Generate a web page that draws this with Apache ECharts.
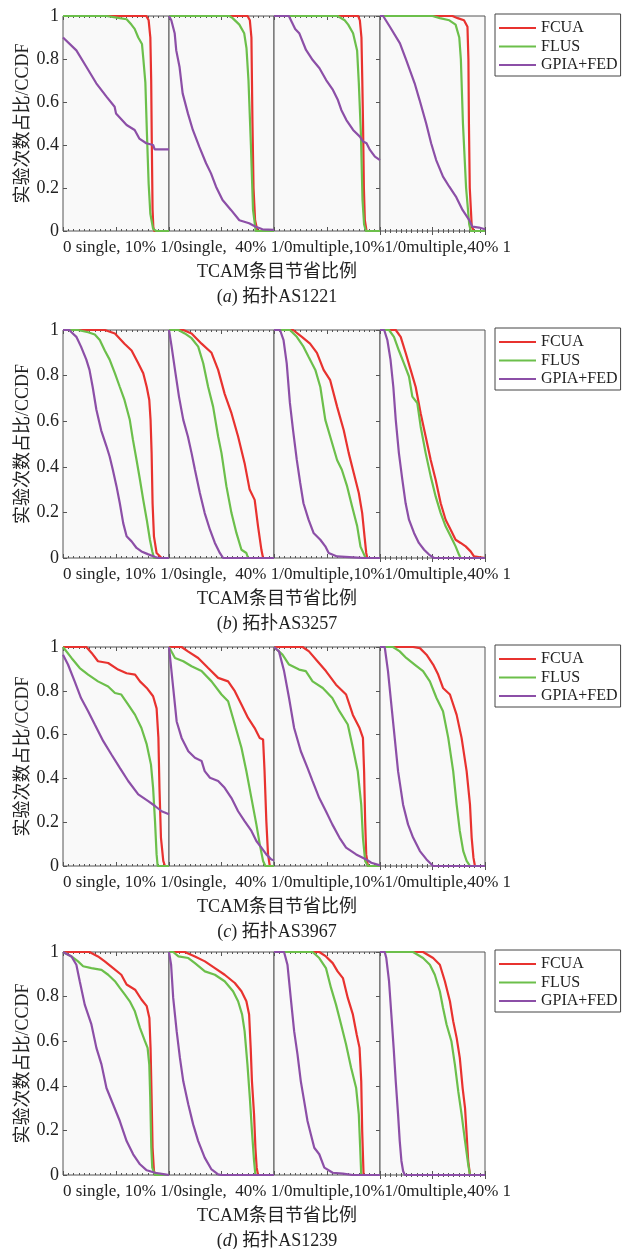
<!DOCTYPE html>
<html><head><meta charset="utf-8">
<script src="https://cdn.jsdelivr.net/npm/echarts@6/dist/echarts.min.js"></script>
<style>html,body{margin:0;padding:0;background:#fff}#c{width:624px;height:1249px}</style>
</head><body><div id="c"></div>
<script>
// ---------------- data ----------------
const methods = ['FCUA', 'FLUS', 'GPIA+FED'];
const subLetters = ['a', 'b', 'c', 'd'];
const topologies = ['AS1221', 'AS3257', 'AS3967', 'AS1239'];
const xTickRow = ['0 ', 'single, 10% ', '1/0', 'single,  40% ', '1/0', 'multiple,10%', '1/0', 'multiple,40% ', '1'];
const yTicks = [0, 0.2, 0.4, 0.6, 0.8, 1];
const xName = 'TCAM条目节省比例';
const yName = '实验次数占比/CCDF';

// (a) AS1221 : one list of points per panel
const a_FCUA = [
 [[0,1],[0.786,1],[0.808,0.98],[0.824,0.9],[0.832,0.7],[0.838,0.4],[0.845,0.1],[0.852,0.02],[0.86,0],[1,0]],
 [[0,1],[0.748,1],[0.77,0.98],[0.785,0.9],[0.79,0.7],[0.795,0.5],[0.805,0.2],[0.82,0.05],[0.842,0],[1,0]],
 [[0,1],[0.794,1],[0.81,0.98],[0.825,0.9],[0.833,0.7],[0.84,0.5],[0.848,0.2],[0.857,0.05],[0.873,0],[1,0]],
 [[0,1],[0.69,1],[0.74,0.99],[0.8,0.98],[0.833,0.95],[0.842,0.8],[0.847,0.5],[0.855,0.2],[0.874,0.02],[0.896,0],[1,0]]
];
const a_FLUS = [
 [[0,1],[0.41,1],[0.535,0.99],[0.6,0.985],[0.645,0.96],[0.676,0.94],[0.71,0.9],[0.745,0.87],[0.758,0.8],[0.777,0.69],[0.792,0.45],[0.808,0.22],[0.824,0.08],[0.85,0.01],[0.88,0],[1,0]],
 [[0,1],[0.574,1],[0.606,0.99],[0.67,0.96],[0.716,0.92],[0.738,0.85],[0.757,0.7],[0.78,0.4],[0.8,0.1],[0.826,0],[1,0]],
 [[0,1],[0.6,1],[0.667,0.98],[0.7,0.96],[0.746,0.92],[0.784,0.84],[0.8,0.69],[0.82,0.45],[0.835,0.144],[0.85,0.03],[0.867,0],[1,0]],
 [[0,1],[0.5,1],[0.57,0.99],[0.66,0.98],[0.72,0.96],[0.755,0.9],[0.77,0.8],[0.79,0.5],[0.82,0.2],[0.85,0.03],[0.865,0],[1,0]]
];
const a_GPIA = [
 [[0,0.9],[0.126,0.84],[0.22,0.764],[0.314,0.687],[0.41,0.625],[0.487,0.578],[0.5,0.547],[0.6,0.493],[0.676,0.47],[0.72,0.43],[0.786,0.408],[0.85,0.4],[0.865,0.38],[1,0.38]],
 [[0,1],[0.022,0.98],[0.054,0.92],[0.069,0.84],[0.1,0.764],[0.13,0.64],[0.18,0.547],[0.227,0.47],[0.29,0.39],[0.353,0.315],[0.4,0.268],[0.448,0.206],[0.51,0.144],[0.59,0.098],[0.67,0.05],[0.763,0.036],[0.826,0.02],[0.89,0.008],[1,0.005]],
 [[0,1],[0.14,1],[0.17,0.97],[0.2,0.94],[0.238,0.92],[0.302,0.842],[0.365,0.795],[0.429,0.757],[0.492,0.702],[0.556,0.656],[0.603,0.609],[0.635,0.563],[0.683,0.516],[0.746,0.47],[0.81,0.439],[0.841,0.416],[0.873,0.408],[0.905,0.377],[0.952,0.346],[1,0.33]],
 [[0,1],[0.03,1],[0.094,0.95],[0.19,0.873],[0.25,0.795],[0.33,0.687],[0.377,0.609],[0.44,0.5],[0.487,0.408],[0.535,0.33],[0.6,0.253],[0.66,0.206],[0.723,0.16],[0.786,0.098],[0.85,0.051],[0.88,0.02],[0.943,0.016],[1,0.008]]
];

// (b) AS3257
const b_FCUA = [
 [[0,1],[0.394,1],[0.49,0.985],[0.58,0.94],[0.647,0.91],[0.71,0.854],[0.757,0.81],[0.79,0.75],[0.814,0.693],[0.826,0.606],[0.836,0.46],[0.845,0.24],[0.858,0.095],[0.883,0.022],[0.93,0],[1,0]],
 [[0,1],[0.136,1],[0.215,0.985],[0.31,0.94],[0.405,0.9],[0.468,0.825],[0.53,0.72],[0.595,0.635],[0.658,0.533],[0.72,0.416],[0.768,0.3],[0.816,0.255],[0.848,0.139],[0.88,0.036],[0.896,0],[1,0]],
 [[0,1],[0.18,1],[0.263,0.97],[0.34,0.94],[0.405,0.9],[0.468,0.825],[0.53,0.78],[0.595,0.664],[0.658,0.56],[0.705,0.46],[0.753,0.372],[0.8,0.285],[0.832,0.197],[0.854,0.095],[0.87,0.022],[0.88,0],[1,0]],
 [[0,1],[0.15,1],[0.197,0.97],[0.244,0.9],[0.292,0.825],[0.34,0.75],[0.387,0.635],[0.435,0.533],[0.483,0.43],[0.53,0.343],[0.578,0.24],[0.625,0.168],[0.673,0.124],[0.72,0.08],[0.768,0.066],[0.816,0.051],[0.863,0.029],[0.895,0.007],[0.91,0],[1,0]]
];
const b_FLUS = [
 [[0,1],[0.14,1],[0.237,0.99],[0.3,0.98],[0.347,0.956],[0.394,0.91],[0.44,0.87],[0.49,0.81],[0.536,0.75],[0.58,0.693],[0.63,0.606],[0.66,0.518],[0.694,0.43],[0.726,0.343],[0.757,0.255],[0.79,0.168],[0.82,0.08],[0.842,0.03],[0.858,0],[1,0]],
 [[0,1],[0.09,1],[0.15,0.985],[0.215,0.964],[0.278,0.927],[0.326,0.854],[0.373,0.75],[0.42,0.664],[0.468,0.533],[0.5,0.46],[0.547,0.314],[0.595,0.197],[0.642,0.11],[0.69,0.036],[0.737,0.022],[0.753,0],[1,0]],
 [[0,1],[0.15,1],[0.215,0.97],[0.278,0.927],[0.326,0.883],[0.39,0.825],[0.437,0.75],[0.484,0.606],[0.53,0.533],[0.595,0.43],[0.64,0.387],[0.69,0.314],[0.737,0.226],[0.785,0.139],[0.816,0.05],[0.85,0.015],[0.864,0],[1,0]],
 [[0,1],[0.086,1],[0.133,0.97],[0.18,0.91],[0.228,0.854],[0.276,0.796],[0.308,0.708],[0.355,0.68],[0.387,0.577],[0.435,0.46],[0.483,0.358],[0.53,0.27],[0.578,0.197],[0.625,0.139],[0.673,0.095],[0.72,0.051],[0.752,0.015],[0.768,0],[1,0]]
];
const b_GPIA = [
 [[0,1],[0.06,1],[0.08,0.99],[0.126,0.97],[0.17,0.927],[0.22,0.87],[0.25,0.825],[0.28,0.75],[0.315,0.65],[0.36,0.56],[0.41,0.49],[0.44,0.445],[0.47,0.387],[0.505,0.314],[0.536,0.24],[0.568,0.153],[0.6,0.095],[0.647,0.073],[0.694,0.044],[0.74,0.029],[0.8,0.017],[0.87,0.004],[0.9,0],[1,0]],
 [[0,1],[0.025,0.927],[0.057,0.825],[0.095,0.708],[0.136,0.606],[0.18,0.533],[0.215,0.46],[0.247,0.387],[0.294,0.285],[0.34,0.197],[0.39,0.124],[0.437,0.066],[0.484,0.022],[0.516,0],[1,0]],
 [[0,1],[0.057,1],[0.09,0.956],[0.12,0.854],[0.15,0.68],[0.18,0.56],[0.215,0.43],[0.247,0.33],[0.278,0.24],[0.326,0.168],[0.373,0.11],[0.437,0.08],[0.484,0.051],[0.516,0.022],[0.595,0.007],[0.75,0.003],[0.85,0],[1,0]],
 [[0,1],[0.04,1],[0.07,0.956],[0.1,0.87],[0.127,0.75],[0.15,0.606],[0.18,0.46],[0.213,0.343],[0.244,0.24],[0.276,0.168],[0.324,0.11],[0.37,0.066],[0.42,0.036],[0.467,0.015],[0.514,0],[1,0]]
];

// (c) AS3967
const c_FCUA = [
 [[0,1],[0.22,1],[0.27,0.973],[0.33,0.935],[0.426,0.927],[0.52,0.897],[0.6,0.88],[0.68,0.874],[0.726,0.843],[0.79,0.813],[0.85,0.775],[0.883,0.72],[0.9,0.585],[0.91,0.357],[0.924,0.13],[0.946,0.023],[0.962,0],[1,0]],
 [[0,1],[0.12,1],[0.18,0.98],[0.278,0.95],[0.373,0.904],[0.468,0.859],[0.563,0.843],[0.627,0.798],[0.69,0.737],[0.753,0.676],[0.816,0.63],[0.864,0.585],[0.896,0.578],[0.91,0.433],[0.927,0.205],[0.943,0.053],[0.96,0],[1,0]],
 [[0,1],[0.27,1],[0.33,0.98],[0.41,0.935],[0.49,0.89],[0.585,0.828],[0.68,0.783],[0.744,0.69],[0.807,0.63],[0.839,0.585],[0.85,0.433],[0.86,0.205],[0.87,0.053],[0.886,0],[1,0]],
 [[0,1],[0.315,1],[0.38,0.995],[0.443,0.965],[0.506,0.92],[0.554,0.874],[0.6,0.813],[0.666,0.783],[0.73,0.69],[0.777,0.585],[0.825,0.433],[0.857,0.28],[0.873,0.13],[0.89,0.038],[0.904,0],[1,0]]
];
const c_FLUS = [
 [[0,1],[0.08,0.95],[0.158,0.904],[0.237,0.874],[0.33,0.843],[0.426,0.82],[0.49,0.79],[0.55,0.783],[0.615,0.737],[0.68,0.69],[0.74,0.63],[0.79,0.555],[0.83,0.463],[0.85,0.357],[0.868,0.205],[0.883,0.053],[0.893,0],[1,0]],
 [[0,1],[0.057,0.95],[0.136,0.935],[0.215,0.912],[0.31,0.89],[0.405,0.843],[0.5,0.783],[0.563,0.752],[0.627,0.646],[0.69,0.54],[0.737,0.433],[0.785,0.31],[0.832,0.19],[0.864,0.1],[0.896,0.023],[0.918,0],[1,0]],
 [[0,1],[0.08,0.965],[0.142,0.92],[0.237,0.897],[0.3,0.89],[0.364,0.843],[0.46,0.813],[0.55,0.767],[0.617,0.707],[0.696,0.646],[0.744,0.54],[0.79,0.433],[0.823,0.28],[0.839,0.13],[0.86,0.023],[0.886,0],[1,0]],
 [[0,1],[0.124,1],[0.188,0.98],[0.25,0.95],[0.33,0.92],[0.41,0.89],[0.475,0.843],[0.538,0.767],[0.6,0.707],[0.65,0.585],[0.697,0.433],[0.73,0.28],[0.76,0.16],[0.793,0.068],[0.825,0.023],[0.857,0],[1,0]]
];
const c_GPIA = [
 [[0,0.965],[0.047,0.92],[0.11,0.843],[0.17,0.767],[0.237,0.707],[0.3,0.646],[0.38,0.57],[0.457,0.509],[0.536,0.448],[0.615,0.388],[0.71,0.327],[0.804,0.296],[0.868,0.274],[0.93,0.25],[1,0.236]],
 [[0,1],[0.04,0.813],[0.073,0.66],[0.12,0.585],[0.184,0.524],[0.247,0.494],[0.31,0.48],[0.34,0.433],[0.39,0.403],[0.468,0.388],[0.53,0.357],[0.595,0.31],[0.658,0.25],[0.72,0.205],[0.785,0.16],[0.832,0.114],[0.88,0.084],[0.927,0.053],[0.975,0.03],[1,0.026]],
 [[0,1],[0.047,0.98],[0.095,0.89],[0.142,0.767],[0.19,0.63],[0.253,0.524],[0.316,0.448],[0.364,0.388],[0.427,0.31],[0.49,0.25],[0.55,0.19],[0.617,0.13],[0.68,0.084],[0.775,0.053],[0.87,0.03],[0.918,0.015],[1,0.003]],
 [[0,1],[0.045,1],[0.076,0.89],[0.108,0.737],[0.14,0.585],[0.172,0.433],[0.22,0.28],[0.267,0.19],[0.315,0.13],[0.38,0.068],[0.443,0.03],[0.506,0],[1,0]]
];

// (d) AS1239
const d_FCUA = [
 [[0,1],[0.25,1],[0.33,0.98],[0.394,0.958],[0.473,0.928],[0.55,0.898],[0.6,0.854],[0.68,0.831],[0.74,0.787],[0.79,0.757],[0.815,0.704],[0.826,0.57],[0.836,0.346],[0.845,0.122],[0.858,0.018],[0.874,0],[1,0]],
 [[0,1],[0.15,1],[0.247,0.98],[0.342,0.958],[0.437,0.928],[0.53,0.898],[0.627,0.861],[0.69,0.824],[0.737,0.779],[0.763,0.72],[0.778,0.57],[0.79,0.42],[0.81,0.272],[0.823,0.122],[0.835,0.033],[0.848,0],[1,0]],
 [[0,1],[0.427,1],[0.49,0.98],[0.554,0.95],[0.6,0.913],[0.65,0.883],[0.696,0.794],[0.744,0.72],[0.78,0.63],[0.807,0.57],[0.823,0.42],[0.832,0.197],[0.845,0],[1,0]],
 [[0,1],[0.41,1],[0.506,0.973],[0.57,0.943],[0.618,0.869],[0.666,0.779],[0.697,0.69],[0.73,0.615],[0.76,0.525],[0.787,0.39],[0.81,0.3],[0.825,0.182],[0.84,0.063],[0.857,0],[1,0]]
];
const d_FLUS = [
 [[0,1],[0.08,0.98],[0.142,0.958],[0.19,0.936],[0.268,0.928],[0.363,0.92],[0.426,0.898],[0.49,0.869],[0.536,0.839],[0.584,0.809],[0.63,0.779],[0.678,0.734],[0.726,0.66],[0.773,0.6],[0.798,0.57],[0.814,0.495],[0.823,0.346],[0.833,0.122],[0.842,0.033],[0.868,0],[1,0]],
 [[0,1],[0.04,1],[0.09,0.98],[0.184,0.973],[0.247,0.95],[0.342,0.913],[0.437,0.898],[0.53,0.869],[0.61,0.824],[0.658,0.779],[0.696,0.72],[0.72,0.645],[0.747,0.496],[0.77,0.346],[0.79,0.197],[0.81,0.063],[0.823,0],[1,0]],
 [[0,1],[0.364,1],[0.427,0.973],[0.49,0.928],[0.538,0.839],[0.585,0.764],[0.633,0.675],[0.68,0.585],[0.728,0.48],[0.775,0.39],[0.8,0.272],[0.813,0.122],[0.823,0],[1,0]],
 [[0,1],[0.315,1],[0.41,0.973],[0.475,0.943],[0.522,0.898],[0.57,0.824],[0.6,0.75],[0.634,0.675],[0.68,0.6],[0.713,0.496],[0.745,0.376],[0.777,0.272],[0.81,0.152],[0.84,0.048],[0.857,0],[1,0]]
];
const d_GPIA = [
 [[0,1],[0.08,0.98],[0.126,0.943],[0.158,0.869],[0.205,0.764],[0.268,0.675],[0.315,0.57],[0.363,0.496],[0.41,0.39],[0.473,0.316],[0.536,0.242],[0.6,0.152],[0.662,0.093],[0.726,0.048],[0.79,0.021],[0.868,0.01],[0.962,0.003],[1,0]],
 [[0,1],[0.02,0.943],[0.04,0.794],[0.073,0.645],[0.104,0.525],[0.136,0.42],[0.184,0.316],[0.23,0.227],[0.278,0.152],[0.34,0.078],[0.405,0.025],[0.468,0.003],[0.5,0],[1,0]],
 [[0,1],[0.095,1],[0.127,0.943],[0.158,0.794],[0.19,0.645],[0.222,0.54],[0.253,0.42],[0.285,0.33],[0.316,0.242],[0.348,0.182],[0.38,0.122],[0.427,0.093],[0.475,0.033],[0.554,0.01],[0.65,0.006],[0.744,0],[1,0]],
 [[0,1],[0.045,1],[0.06,0.973],[0.086,0.869],[0.108,0.72],[0.13,0.57],[0.15,0.42],[0.172,0.272],[0.188,0.152],[0.204,0.063],[0.22,0.018],[0.236,0],[1,0]]
];

// ---------------- layout / style ----------------
const DATA = [
  [a_FCUA, a_FLUS, a_GPIA],
  [b_FCUA, b_FLUS, b_GPIA],
  [c_FCUA, c_FLUS, c_GPIA],
  [d_FCUA, d_FLUS, d_GPIA]
];
const COLORS = ['#e8322f', '#6cbf4b', '#8c4fa7'];
const SERIF = '"Liberation Serif", "Times New Roman", "Noto Sans CJK SC", serif';
const AX = '#555';
const TXT = '#222';
const plotTops = [16, 330, 647, 952];
const plotBottoms = [231, 558, 866, 1175];
const panelEdges = [63, 169, 274, 380, 485];

const grids = [], xAxes = [], yAxes = [], series = [], legends = [], graphics = [];
const rowText = xTickRow.join('');

for (let s = 0; s < 4; s++) {
  for (let p = 0; p < 4; p++) {
    const g = s * 4 + p;
    grids.push({
      left: panelEdges[p], width: panelEdges[p + 1] - panelEdges[p],
      top: plotTops[s], height: plotBottoms[s] - plotTops[s],
      show: true, backgroundColor: '#f9f9f9', borderColor: AX, borderWidth: 1
    });
    const baseX = {
      type: 'value', gridIndex: g, min: 0, max: 1, interval: 0.5,
      axisLine: { show: false }, splitLine: { show: false },
      axisTick: { show: true, inside: true, length: 4, lineStyle: { color: AX } },
      minorTick: { show: true, splitNumber: 10, length: 2, lineStyle: { color: AX } }
    };
    const bottomLabel = (p === 0) ? {
      show: true, align: 'left', margin: 8, fontFamily: SERIF, fontSize: 17, color: TXT,
      showMinLabel: true, showMaxLabel: false,
      formatter: v => (v === 0 ? rowText : '')
    } : { show: false };
    xAxes.push(Object.assign({}, baseX, { position: 'bottom', axisLabel: bottomLabel }));
    xAxes.push(Object.assign({}, baseX, { position: 'top', axisLabel: { show: false } }));
    const yBase = {
      type: 'value', gridIndex: g, min: 0, max: 1, interval: 0.2, position: 'left',
      axisLine: { show: false }, splitLine: { show: false }
    };
    if (p === 0) {
      yAxes.push(Object.assign({}, yBase, {
        axisTick: { show: true, inside: true, length: 4, lineStyle: { color: AX } },
        axisLabel: { show: true, margin: 4, fontFamily: SERIF, fontSize: 18, color: TXT },
        name: yName, nameLocation: 'middle', nameRotate: 90, nameGap: 27,
        nameTextStyle: { fontFamily: SERIF, fontSize: 18, color: TXT }
      }));
    } else {
      yAxes.push(Object.assign({}, yBase, { axisTick: { show: false }, axisLabel: { show: false } }));
    }
  }
}
// right-side tick axes for last panel of each sub-figure
for (let s = 0; s < 4; s++) {
  yAxes.push({
    type: 'value', gridIndex: s * 4 + 3, min: 0, max: 1, interval: 0.2, position: 'right',
    axisLine: { show: false }, splitLine: { show: false },
    axisTick: { show: true, inside: true, length: 4, lineStyle: { color: AX } },
    axisLabel: { show: false }
  });
}

for (let s = 0; s < 4; s++) {
  for (let p = 0; p < 4; p++) {
    const g = s * 4 + p;
    for (let m = 0; m < 3; m++) {
      series.push({
        name: methods[m], type: 'line', xAxisIndex: 2 * g, yAxisIndex: g,
        data: DATA[s][m][p], symbol: 'none', animation: false,
        lineStyle: { color: COLORS[m], width: 2.2 }, itemStyle: { color: COLORS[m] }
      });
    }
  }
  legends.push({
    left: 495, top: plotTops[s] - 2, orient: 'vertical', data: methods,
    icon: 'rect', itemWidth: 37, itemHeight: 2, itemGap: 2.5,
    padding: [6, 3, 3, 4], borderColor: '#444', borderWidth: 1, backgroundColor: '#fff',
    selectedMode: false,
    textStyle: { fontFamily: SERIF, fontSize: 16, color: TXT }
  });
  const cx = (panelEdges[0] + panelEdges[4]) / 2 + 3;
  graphics.push({
    type: 'text', x: cx, y: plotBottoms[s] + 41,
    style: { text: xName, fontFamily: SERIF, fontSize: 18, fill: TXT,
      align: 'center', verticalAlign: 'middle', textAlign: 'center', textVerticalAlign: 'middle' }
  });
  graphics.push({
    type: 'text', x: cx, y: plotBottoms[s] + 66,
    style: { text: '({i|' + subLetters[s] + '}) 拓扑' + topologies[s], fontFamily: SERIF, fontSize: 18, fill: TXT,
      align: 'center', verticalAlign: 'middle', textAlign: 'center', textVerticalAlign: 'middle',
      rich: { i: { fontStyle: 'italic', fontFamily: SERIF, fontSize: 18, fill: TXT } } }
  });
}

const chart = echarts.init(document.getElementById('c'), null, { renderer: 'canvas' });
chart.setOption({
  backgroundColor: '#fff',
  animation: false,
  color: COLORS,
  grid: grids, xAxis: xAxes, yAxis: yAxes, series: series, legend: legends,
  graphic: { elements: graphics }
});
</script>
</body></html>
